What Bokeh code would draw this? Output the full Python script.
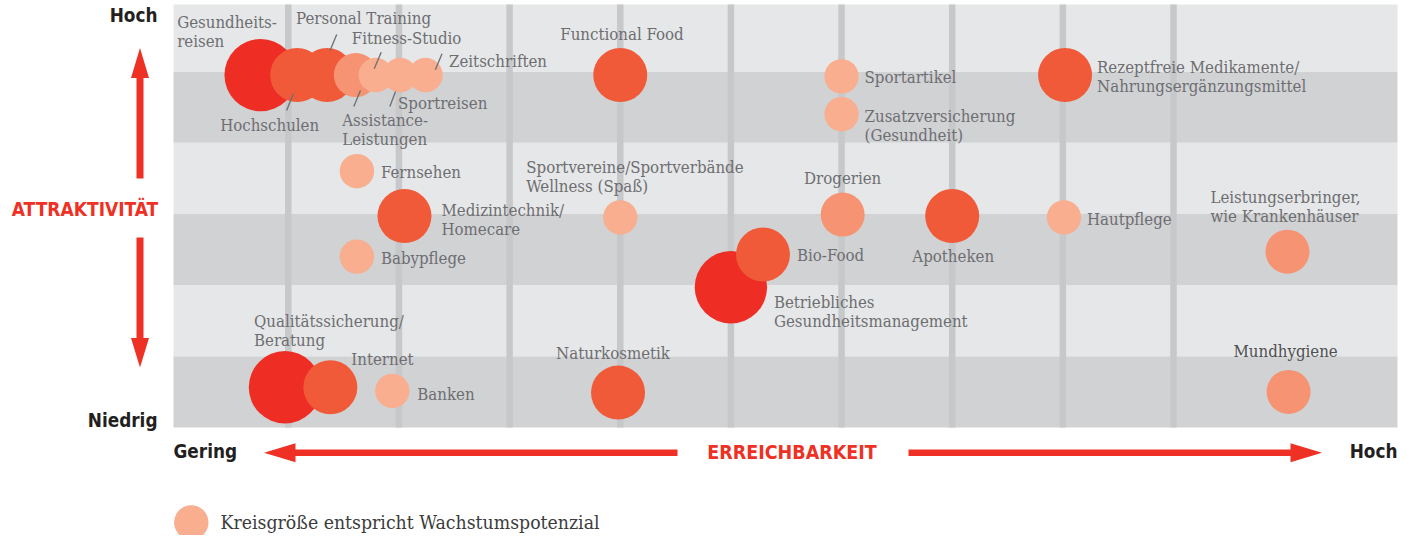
from bokeh.plotting import figure
from bokeh.models import ColumnDataSource, Range1d
from bokeh.core.properties import value
from bokeh.embed import file_html
from bokeh.resources import INLINE

# ---------------- data ----------------
maerkte = [
    "Gesundheits-\nreisen", "Hochschulen", "Personal Training", "Assistance-\nLeistungen",
    "Fitness-Studio", "Sportreisen", "Zeitschriften", "Functional Food", "Sportartikel",
    "Zusatzversicherung\n(Gesundheit)", "Rezeptfreie Medikamente/\nNahrungsergänzungsmittel",
    "Fernsehen", "Medizintechnik/\nHomecare", "Babypflege",
    "Sportvereine/Sportverbände\nWellness (Spaß)", "Drogerien", "Apotheken", "Hautpflege",
    "Leistungserbringer,\nwie Krankenhäuser", "Bio-Food", "Betriebliches\nGesundheitsmanagement",
    "Qualitätssicherung/\nBeratung", "Internet", "Banken", "Naturkosmetik", "Mundhygiene",
]
erreichbarkeit = [0.75, 1.08, 1.35, 1.61, 1.79, 2.01, 2.24, 4.0, 6.0, 6.0, 8.02,
                  1.62, 2.05, 1.62, 4.0, 6.01, 7.0, 8.01, 10.03, 5.29, 5.0,
                  0.97, 1.38, 1.94, 3.98, 10.04]
attraktivitaet = [4.95, 4.95, 4.95, 4.95, 4.95, 4.95, 4.95, 4.95, 4.93, 4.40, 4.95,
                  3.60, 2.97, 2.40, 2.95, 2.99, 2.97, 2.95, 2.47, 2.43, 1.97,
                  0.565, 0.565, 0.515, 0.49, 0.50]
wachstum = [4, 3, 3, 2, 1, 1, 1, 3, 1, 1, 3,
            1, 3, 1, 1, 2, 3, 1, 2, 3, 4,
            4, 3, 1, 3, 2]
x_raster = [1, 2, 3, 4, 5, 6, 7, 8, 9]
y_baender = [0, 1, 2, 3, 4, 5]
y_achse = ["Niedrig", "Hoch"]
x_achse = ["Gering", "Hoch"]
legende = "Kreisgröße entspricht Wachstumspotenzial"

# ---------------- layout / style ----------------
W, H = 1400, 535
PAGE_LEFT, PAGE_TOP = 0, 0
X0_PX, PX_X = 177.15, 110.65
Y0_PX, PX_Y = 427.0, 71.2
BAND_L_PX, BAND_R_PX, BAND_T_PX = 173, 1397, 4

def xd(px):
    return (px - X0_PX) / PX_X

def yd(py):
    return (Y0_PX - py) / PX_Y

RADIUS = {1: 17.2, 2: 22.0, 3: 27.0, 4: 36.2}
COLOR = {1: "#F8AE8F", 2: "#F59372", 3: "#F05A38", 4: "#EE2E24"}
LIGHT, DARK, GRIDC = "#E6E7E8", "#D1D2D4", "#C7C8CA"
TXT = "#6D6E71"
TXT_DARK = "#4F5052"
RED = "#EE3124"
SERIF = "DejaVu Serif Condensed"
SANS = "DejaVu Sans Condensed"

# label offsets (px) relative to circle centre: dx, dy, align
LBL = [
    (-83.5, -43.5, "left"), (-77, 49.5, "left"), (-31, -57, "left"), (-13.6, 54.5, "left"),
    (-24, -37.5, "left"), (-2, 27.5, "left"), (23.5, -14.5, "left"), (-60, -41, "left"),
    (23, 0.5, "left"), (23, 11, "left"), (32, 1, "left"),
    (24, 1, "left"), (37, 3.5, "left"), (24, 1.5, "left"),
    (-94, -41, "left"), (0, -37, "center"), (1, 40, "center"), (23, 2, "left"),
    (-77, -45.5, "left"), (34, 1, "left"), (43, 24.5, "left"),
    (-31, -57, "left"), (21, -28.5, "left"), (25, 3, "left"), (-5, -40, "center"), (-3, -41, "center"),
]
LBL_COLOR = [TXT] * (len(LBL) - 1) + [TXT_DARK]
# leader lines: index, (dx1, dy1, dx2, dy2) px from circle centre
LEADERS = [
    (2, (9.7, -40.5, 3, -24.5)),
    (4, (5.5, -22.8, -1.5, -6.2)),
    (6, (16.5, -21.2, 9.8, -5.2)),
    (5, (-4.5, 16.5, -10.2, 31.5)),
    (3, (4.7, 15.5, -2, 31.5)),
    (1, (-3.9, 18.8, -10.5, 35.5)),
]

p = figure(width=W, height=H,
           x_range=Range1d(xd(PAGE_LEFT), xd(PAGE_LEFT + W)),
           y_range=Range1d(yd(PAGE_TOP + H), yd(PAGE_TOP)),
           output_backend="svg", toolbar_location=None,
           x_axis_type=None, y_axis_type=None, min_border=0,
           outline_line_color=None, background_fill_color="white",
           border_fill_color="white")

x_l, x_r, y_t = xd(BAND_L_PX), xd(BAND_R_PX), yd(BAND_T_PX)

# bands
tops = [b + 1 for b in y_baender]
tops[-1] = y_t
band_cols = [DARK if i % 2 == 0 else LIGHT for i in range(len(y_baender))]
p.quad(left=x_l, right=x_r, bottom=y_baender, top=tops, fill_color=band_cols, line_color=None)

# vertical raster lines
p.segment(x0=x_raster, y0=0, x1=x_raster, y1=y_t, line_color=GRIDC, line_width=6.5)

# bubbles (largest first)
order = sorted(range(len(maerkte)), key=lambda i: -wachstum[i])
src = ColumnDataSource(dict(
    x=[erreichbarkeit[i] for i in order],
    y=[attraktivitaet[i] for i in order],
    size=[2 * RADIUS[wachstum[i]] for i in order],
    color=[COLOR[wachstum[i]] for i in order],
))
p.scatter("x", "y", size="size", fill_color="color", line_color=None, source=src)

# leader lines
for i, (a, b, c, d) in LEADERS:
    p.segment(x0=erreichbarkeit[i] + a / PX_X, y0=attraktivitaet[i] - b / PX_Y,
              x1=erreichbarkeit[i] + c / PX_X, y1=attraktivitaet[i] - d / PX_Y,
              line_color=TXT, line_width=1.3)

# labels
for al in ("left", "center"):
    idx = [i for i in range(len(maerkte)) if LBL[i][2] == al]
    s = ColumnDataSource(dict(
        x=[erreichbarkeit[i] for i in idx], y=[attraktivitaet[i] for i in idx],
        t=[maerkte[i] for i in idx], dx=[LBL[i][0] for i in idx], dy=[LBL[i][1] for i in idx],
        c=[LBL_COLOR[i] for i in idx]))
    p.text("x", "y", text="t", x_offset="dx", y_offset="dy", source=s,
           text_font=value(SERIF), text_font_size="16.7px", text_color="c",
           text_align=al, text_baseline="middle", text_line_height=0.95)

# axis captions
def cap(txt, xp, ypx, align, color="#231F20", size="18.8px"):
    p.text(x=[xd(xp)], y=[yd(ypx)], text=[txt], text_font=value(SANS), text_font_style="bold",
           text_font_size=size, text_color=color, text_align=align, text_baseline="middle")

cap(y_achse[1], 157, 15, "right")
cap(y_achse[0], 157, 420, "right")
cap(x_achse[0], 173, 451, "left")
cap(x_achse[1], 1397, 451, "right")
cap("ATTRAKTIVITÄT", 84.5, 208, "center", RED, "19px")
cap("ERREICHBARKEIT", 791.5, 452, "center", RED, "19.5px")

# arrows
def shaft(x0p, x1p, y0p, y1p):
    p.quad(left=xd(x0p), right=xd(x1p), top=yd(y0p), bottom=yd(y1p), fill_color=RED, line_color=None)

def head(pts):
    p.patch(x=[xd(a) for a, b in pts], y=[yd(b) for a, b in pts], fill_color=RED, line_color=None)

AX = 139.5
shaft(AX - 3.5, AX + 3.5, 77, 178)
head([(AX, 47.5), (AX - 9, 77.5), (AX + 9, 77.5)])
shaft(AX - 3.5, AX + 3.5, 237, 338)
head([(AX, 367), (AX - 9, 337.5), (AX + 9, 337.5)])
AY = 452.3
shaft(294.5, 677, AY - 3.3, AY + 3.3)
head([(263.5, AY), (295, AY - 9.5), (295, AY + 9.5)])
shaft(908, 1290.5, AY - 3.3, AY + 3.3)
head([(1321.5, AY), (1290, AY - 9.5), (1290, AY + 9.5)])

# legend
p.scatter(x=[xd(190.8)], y=[yd(522)], size=2 * RADIUS[1], fill_color=COLOR[1], line_color=None)
p.text(x=[xd(220)], y=[yd(522)], text=[legende], text_font=value(SERIF), text_font_size="19.3px",
       text_color="#3C3C3C", text_align="left", text_baseline="middle")

open("out.html", "w").write(file_html(p, INLINE))
